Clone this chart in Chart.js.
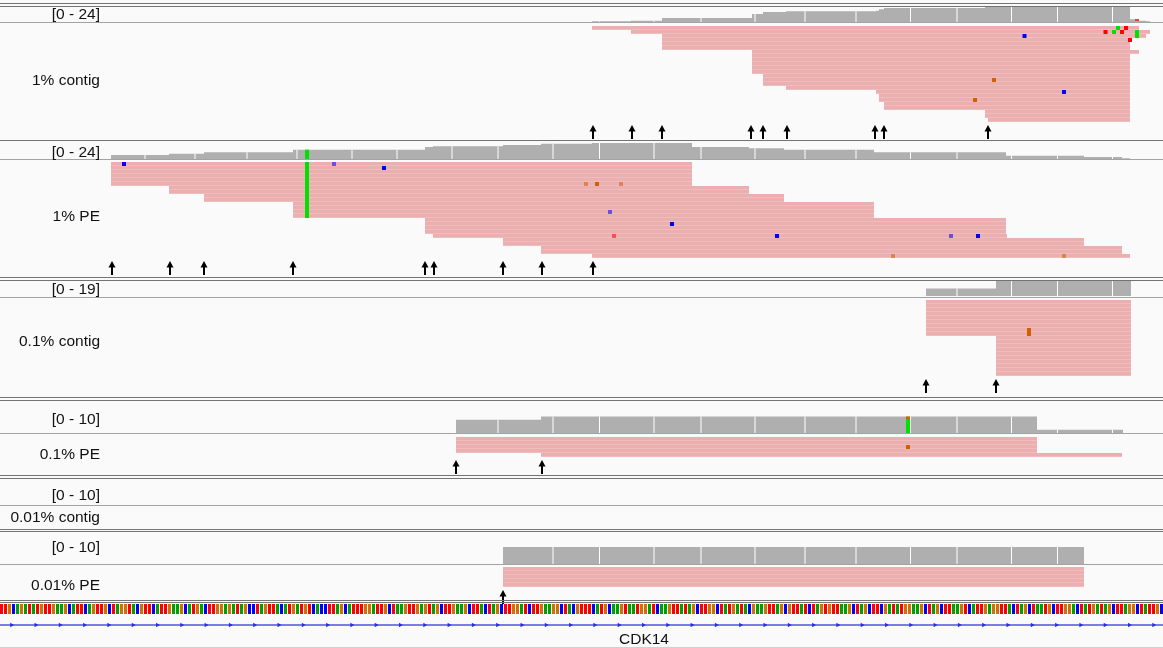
<!DOCTYPE html>
<html>
<head>
<meta charset="utf-8">
<script src="https://cdn.jsdelivr.net/npm/chart.js@4.4.1/dist/chart.umd.min.js"></script>
<style>
  body { margin:0; width:1163px; height:648px; background:#fafafa; overflow:hidden; position:relative;
         font-family:"Liberation Sans", Arial, Helvetica, sans-serif; }
  canvas { position:absolute; left:0; }
  .hline { position:absolute; left:0; width:1163px; height:1px; background:#737373; z-index:5; }
  .hline.light { background:#a3a3a3; }
  .hline.pale { background:#d0d0d0; }
  .lbl { position:absolute; left:0; width:100px; text-align:right; font-size:15.5px; line-height:1;
         color:#111; transform:translateY(-50%); z-index:6; white-space:nowrap; }
</style>
</head>
<body>
<script>
// ---- data (x = position along the viewed region, 4 units per base) ----
var X_MIN = 0, X_MAX = 1163;
var BP = 4;

// white tick marks that split the coverage bars
var coverageBreaks = [145, 195, 247, 297, 352, 397, 452, 498, 553, 599.5, 654, 701, 755, 805, 856, 910.5, 957, 1011.5, 1057.5, 1112.5];

// 1% contig
var contig1Range = 24;
var contig1Coverage = [[592,1],[631,2],[662,6],[752,12],[763,15],[786,16],[876,17],[879,19],[884,21],[985,23],[988,24],[1130,4],[1139,2],[1146,1],[1150,0]];
var contig1CovMismatch = [[1135,2,4,'T']];
var contig1Reads = [
  [592,1139],[631,1150],[662,1146],[662,1130],[662,1130],[662,1130],
  [752,1139],[752,1130],[752,1130],[752,1130],[752,1130],[752,1130],
  [763,1130],[763,1130],[763,1130],[786,1130],[876,1130],[879,1130],[879,1130],
  [884,1130],[884,1130],[985,1130],[985,1130],[988,1130]
];
var contig1Mismatch = [[1022.5,2,2,'C'],[1103.5,1,1,'T'],[1116,0,0,'A'],[1112,1,1,'A'],[1120,1,1,'T'],[1124,0,0,'T'],
  [1135,1,2,'A'],[1128,3,3,'T'],[992,13,13,'G'],[1062,16,16,'C'],[973,18,18,'G']];
var contig1Arrows = [593,632,662,751,763,787,875,884,988];

// 1% PE
var pe1Range = 24;
var pe1Coverage = [[111,6],[169,8],[204,10],[293,14],[425,18],[433,19],[503,21],[541,23],[592,24],[692,18],[749,16],[784,14],[874,10],[1006,5],[1084,3],[1122,1],[1130,0]];
var pe1CovMismatch = [[305,0,14,'A']];
var pe1Reads = [
  [111,692],[111,692],[111,692],[111,692],[111,692],[111,692],
  [169,749],[169,749],[204,784],[204,784],
  [293,874],[293,874],[293,874],[293,874],
  [425,1006],[425,1006],[425,1006],[425,1006],[433,1007],
  [503,1084],[503,1084],[541,1122],[541,1122],[592,1130]
];
var pe1Mismatch = [[122,0,0,'C'],[332,0,0,'c'],[382,1,1,'C'],[305,0,13,'A'],
  [584,5,5,'g'],[595,5,5,'G'],[619,5,5,'g'],[608,12,12,'c'],[670,15,15,'C'],
  [612,18,18,'t'],[775,18,18,'C'],[949,18,18,'c'],[976,18,18,'C'],[891,23,23,'g'],[1062,23,23,'g']];
var pe1Arrows = [112,170,204,293,425,434,503,542,593];

// 0.1% contig
var contig01Range = 19;
var contig01Coverage = [[926,9],[996,19],[1131,0]];
var contig01CovMismatch = [];
var contig01Reads = [
  [926,1131],[926,1131],[926,1131],[926,1131],[926,1131],[926,1131],[926,1131],[926,1131],[926,1131],
  [996,1131],[996,1131],[996,1131],[996,1131],[996,1131],[996,1131],[996,1131],[996,1131],[996,1131],[996,1131]
];
var contig01Mismatch = [[1027,7,8,'G']];
var contig01Arrows = [926,996];

// 0.1% PE
var pe01Range = 10;
var pe01Coverage = [[456,4],[541,5],[1037,1],[1123,0]];
var pe01CovMismatch = [[906,0,4,'A'],[906,4,5,'G']];
var pe01Reads = [[456,1037],[456,1037],[456,1037],[456,1037],[541,1122]];
var pe01Mismatch = [[906,2,2,'G']];
var pe01Arrows = [456,542];

// 0.01% contig (no reads)
var contig001Range = 10;
var contig001Coverage = [];

// 0.01% PE
var pe001Range = 10;
var pe001Coverage = [[503,5],[1084,0]];
var pe001Reads = [[503,1084],[503,1084],[503,1084],[503,1084],[503,1084]];
var pe001Arrows = [503];

// reference sequence and gene
var SEQ_START = -0.5;
var sequence = 'TTGCAGATAT' + 'GTTGAAGCAT' + 'TCAGTTGCTA' + 'GGTACGTTCA' + 'TTGAAGCATG' +
  'ACTTGGAGAT' + 'AGCCTAGTTA' + 'CATGATGTCA' + 'CCTTAGCATT' + 'TGGATTGCTA' +
  'AGTTGAGTAG' + 'CTTGAAGCTT' + 'ACTAGCTTGG' + 'ATCTTGAAGG' + 'CTACGTTTCA' +
  'TGCAAGTAAT' + 'GGATCAAGTT' + 'ATAGCTTGGC' + 'TATGATACGA' + 'AGTTAGCGTT' +
  'ATCTAGTGTT' + 'AAGCTAGCTT' + 'CGATATGGAA' + 'GCTAGCTTAA' + 'GTCATTGAGG' +
  'TTACTAGCTA' + 'ATGCTTGGAC' + 'TATGATAGCT' + 'TAGGCTATTG' + 'CA';
var geneName = 'CDK14';
var geneStart = 0, geneEnd = 1163;

// ---- styles ----
var ROW_PX = 4;
var ARROW_GAP = 2.5;
var READ_FILL = '#ebafaf', READ_EDGE = '#efbdbd';
var COV_FILL = '#afafaf';
var SEQ_COLORS = { A:'#00a000', C:'#0000ff', G:'#d17105', T:'#ff0000' };
var MM_COLORS = { A:'0,225,0', C:'0,0,255', G:'208,96,0', T:'255,0,0' };

function baseColor(b) {
  var rgb = MM_COLORS[b.toUpperCase()];
  return b === b.toUpperCase() ? 'rgb(' + rgb + ')' : 'rgba(' + rgb + ',0.55)';
}

// depth of a step coverage profile at position x
function depthAt(coverage, x) {
  var d = 0;
  coverage.forEach(function(s){ if (s[0] <= x) d = s[1]; });
  return d;
}

var arrowGlyph = document.createElement('canvas');
arrowGlyph.width = 8; arrowGlyph.height = 14;
(function(){
  var g = arrowGlyph.getContext('2d');
  g.fillStyle = '#000';
  g.beginPath(); g.moveTo(4,0); g.lineTo(7.5,6.5); g.lineTo(0.5,6.5); g.closePath(); g.fill();
  g.fillRect(3,5,2,9);
})();

function makeCanvas(top, height) {
  var c = document.createElement('canvas');
  c.width = 1163; c.height = height;
  c.style.top = top + 'px';
  document.body.appendChild(c);
  return c;
}

function baseOptions(yMin, yMax, reverse) {
  return {
    responsive: false, animation: false, events: [],
    layout: { padding: 0, autoPadding: false },
    plugins: { legend: { display: false }, tooltip: { enabled: false } },
    scales: {
      x: { type: 'linear', min: X_MIN, max: X_MAX, display: false, offset: false },
      y: { type: 'linear', min: yMin, max: yMax, reverse: reverse, display: false, offset: false }
    }
  };
}

function drawCoverage(top, height, range, coverage, covMismatch) {
  var c = makeCanvas(top, height);
  var steps = [];
  if (coverage.length) {
    steps.push({ x: coverage[0][0], y: 0 });
    coverage.forEach(function(s){ steps.push({ x: s[0], y: s[1] }); });
  }
  var breaks = coverageBreaks
    .map(function(b){ return { x: b, y: [0, depthAt(coverage, b)] }; })
    .filter(function(p){ return p.y[1] > 0; });
  new Chart(c, {
    type: 'line',
    data: { datasets: [
      { type: 'bar', data: covMismatch.map(function(m){ return { x: m[0] + BP/2, y: [m[1], m[2]] }; }),
        backgroundColor: covMismatch.map(function(m){ return baseColor(m[3]); }),
        barThickness: BP, grouped: false, inflateAmount: 0, order: 1 },
      { type: 'bar', data: breaks,
        backgroundColor: '#ffffff', barThickness: 1, grouped: false, inflateAmount: 0, order: 2 },
      { type: 'line', data: steps, stepped: true, fill: 'origin', backgroundColor: COV_FILL,
        borderWidth: 0, pointRadius: 0, order: 3 }
    ]},
    options: baseOptions(0, range, false)
  });
}

function drawReads(top, height, reads, mismatches, arrows) {
  var c = makeCanvas(top, height);
  var mm = [];
  mismatches.forEach(function(m){
    for (var r = m[1]; r <= m[2]; r++) mm.push({ x: [m[0], m[0] + BP], y: r + 0.5, base: m[3] });
  });
  var opts = baseOptions(0, height / ROW_PX, true);
  opts.indexAxis = 'y';
  new Chart(c, {
    type: 'bar',
    data: { datasets: [
      { type: 'scatter', data: arrows.map(function(a){ return { x: a, y: reads.length + ARROW_GAP }; }),
        pointStyle: arrowGlyph, pointRadius: 7, order: 0 },
      { data: mm, backgroundColor: mm.map(function(m){ return baseColor(m.base); }),
        barThickness: ROW_PX, grouped: false, inflateAmount: 0, borderWidth: 0, order: 1 },
      { data: reads.map(function(r, i){ return { x: r, y: i + 0.5 }; }),
        backgroundColor: READ_FILL, borderColor: READ_EDGE,
        borderWidth: { top: 0, right: 0, bottom: 1, left: 0 }, borderSkipped: false,
        barThickness: ROW_PX, grouped: false, inflateAmount: 0, order: 2 }
    ]},
    options: opts
  });
}

// tracks
drawCoverage(6, 16, contig1Range, contig1Coverage, contig1CovMismatch);
drawReads(26, 116, contig1Reads, contig1Mismatch, contig1Arrows);
drawCoverage(143, 16, pe1Range, pe1Coverage, pe1CovMismatch);
drawReads(162, 116, pe1Reads, pe1Mismatch, pe1Arrows);
drawCoverage(280, 16, contig01Range, contig01Coverage, contig01CovMismatch);
drawReads(300, 98, contig01Reads, contig01Mismatch, contig01Arrows);
drawCoverage(400, 33, pe01Range, pe01Coverage, pe01CovMismatch);
drawReads(437, 40, pe01Reads, pe01Mismatch, pe01Arrows);
drawCoverage(478, 27, contig001Range, contig001Coverage, []);
drawCoverage(530, 34, pe001Range, pe001Coverage, []);
drawReads(567, 37, pe001Reads, [], pe001Arrows);

// sequence
var bases = sequence.split('').slice(0, Math.ceil((X_MAX - SEQ_START) / BP));
var seqCanvas = makeCanvas(604, 10);
new Chart(seqCanvas, {
  type: 'bar',
  data: { datasets: [{
    data: bases.map(function(b, i){ return { x: SEQ_START + i * BP + 2, y: 1 }; }),
    backgroundColor: bases.map(function(b){ return SEQ_COLORS[b]; }),
    barThickness: 3, grouped: false, inflateAmount: 0
  }]},
  options: baseOptions(0, 1, false)
});

// gene with strand arrows
var strandTicks = [];
for (var t = geneStart + 11.5; t < geneEnd; t += 24.3) strandTicks.push({ x: t, y: 0 });
var geneCanvas = makeCanvas(617, 16);
new Chart(geneCanvas, {
  type: 'line',
  data: { datasets: [
    { type: 'scatter', data: strandTicks, pointStyle: 'triangle', rotation: 90, pointRadius: 2.6,
      backgroundColor: '#2a2af2', borderWidth: 0, order: 0 },
    { data: [{ x: geneStart, y: 0 }, { x: geneEnd, y: 0 }], borderColor: '#7c7ce4', borderWidth: 2,
      pointRadius: 0, order: 1 }
  ]},
  options: baseOptions(-1, 1, false)
});

// separator lines and labels
[3, 6, 140, 277, 280, 397, 400, 475, 478, 529, 531, 600, 602].forEach(function(y){
  var d = document.createElement('div'); d.className = 'hline'; d.style.top = y + 'px'; document.body.appendChild(d);
});
[22, 159, 297, 433, 505, 564].forEach(function(y){
  var d = document.createElement('div'); d.className = 'hline light'; d.style.top = y + 'px'; document.body.appendChild(d);
});
(function(){
  var d = document.createElement('div'); d.className = 'hline pale'; d.style.top = '647px'; document.body.appendChild(d);
})();

var labels = [
  ['[0 - 24]', 14], ['1% contig', 80], ['[0 - 24]', 151.5], ['1% PE', 215.5],
  ['[0 - 19]', 288.5], ['0.1% contig', 341], ['[0 - 10]', 418.5], ['0.1% PE', 454],
  ['[0 - 10]', 494.5], ['0.01% contig', 517], ['[0 - 10]', 547], ['0.01% PE', 584.5]
];
labels.forEach(function(l){
  var d = document.createElement('div'); d.className = 'lbl'; d.textContent = l[0];
  d.style.top = l[1] + 'px'; document.body.appendChild(d);
});
var gl = document.createElement('div'); gl.className = 'lbl'; gl.textContent = geneName;
gl.style.left = '594px'; gl.style.textAlign = 'center'; gl.style.top = '639px';
document.body.appendChild(gl);
</script>
</body>
</html>
